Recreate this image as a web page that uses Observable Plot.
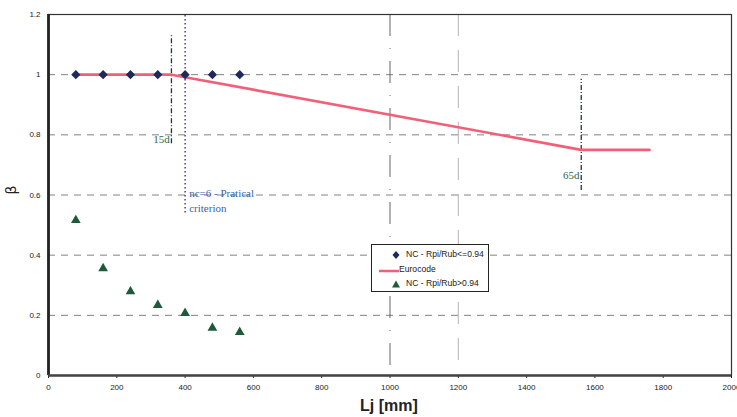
<!DOCTYPE html>
<html><head><meta charset="utf-8">
<script src="https://cdn.jsdelivr.net/npm/d3@7"></script>
<script src="https://cdn.jsdelivr.net/npm/@observablehq/plot@0.6"></script>
<style>
body{margin:0;background:#fff;font-family:"Liberation Sans",Arial,sans-serif;}
#wrap{position:relative;width:737px;height:417px;}
#legend{position:absolute;left:371px;top:244px;width:118px;height:48px;border:1px solid #222;background:#fff;font-size:8.6px;color:#222;box-sizing:border-box;}
#legend div{position:absolute;left:0;white-space:nowrap;}
</style></head>
<body><div id="wrap"></div>
<script>
const lengths = [80, 160, 240, 320, 400, 480, 560];
const betaLow = [1, 1, 1, 1, 1, 1, 1];
const betaHigh = [0.516, 0.356, 0.279, 0.234, 0.207, 0.158, 0.144];
const eurocodeL = [80, 360, 1560, 1760];
const eurocodeB = [1, 1, 0.75, 0.75];
const xTicks = [0, 200, 400, 600, 800, 1000, 1200, 1400, 1600, 1800, 2000];
const yTicks = [0, 0.2, 0.4, 0.6, 0.8, 1, 1.2];
const yGrid = [0.2, 0.4, 0.6, 0.8, 1];
const legendLabels = ["NC - Rpi/Rub<=0.94", "Eurocode", "NC - Rpi/Rub>0.94"];

const low = lengths.map((x, i) => ({x, y: betaLow[i]}));
const high = lengths.map((x, i) => ({x, y: betaHigh[i]}));
const euro = eurocodeL.map((x, i) => ({x, y: eurocodeB[i]}));

const chart = Plot.plot({
  width: 737, height: 417,
  marginLeft: 48, marginRight: 6, marginTop: 14, marginBottom: 42,
  style: {fontFamily: "Liberation Sans, Arial, sans-serif", fontSize: "8px", color: "#222", background: "#fff"},
  x: {domain: [0, 2000], ticks: xTicks, tickSize: 3, tickPadding: 6, tickFormat: d => String(d), label: null},
  y: {domain: [0, 1.2], ticks: yTicks, tickSize: 0, tickPadding: 8, tickFormat: d => String(d), label: null},
  marks: [
    Plot.ruleY(yGrid, {stroke: "#444", strokeDasharray: "7,6", strokeWidth: 0.9, strokeOpacity: 0.75}),
    Plot.ruleX([1000], {stroke: "#555", strokeDasharray: "22,12,1,12", strokeWidth: 0.9}),
    Plot.ruleX([1200], {stroke: "#aaa", strokeDasharray: "22,14", strokeWidth: 0.9}),
    Plot.ruleX([360], {y1: 0.77, y2: 1.135, stroke: "#1c3a2c", strokeDasharray: "5,2,1,2", strokeWidth: 1.3}),
    Plot.ruleX([400], {y1: 0.54, y2: 1.2, stroke: "#2e3b8f", strokeDasharray: "1.5,2.5", strokeWidth: 1.4}),
    Plot.ruleX([1560], {y1: 0.615, y2: 0.985, stroke: "#1c3a2c", strokeDasharray: "5,2,1,2", strokeWidth: 1.3}),
    Plot.text(["15d"], {x: 355, y: 0.785, textAnchor: "end", fill: "#2d6a4a", fontFamily: "Liberation Serif, serif", fontSize: 11}),
    Plot.text(["65d"], {x: 1555, y: 0.665, textAnchor: "end", fill: "#2d6a4a", fontFamily: "Liberation Serif, serif", fontSize: 11}),
    Plot.text(["nc=6 - Pratical"], {x: 412, y: 0.605, textAnchor: "start", fill: "#3a63b0", fontFamily: "Liberation Serif, serif", fontSize: 11}),
    Plot.text(["criterion"], {x: 412, y: 0.555, textAnchor: "start", fill: "#3a63b0", fontFamily: "Liberation Serif, serif", fontSize: 11}),
    Plot.line(euro, {x: "x", y: "y", stroke: "#f06078", strokeWidth: 2.6}),
    Plot.dot(low, {x: "x", y: "y", symbol: "diamond2", r: 3.2, fill: "#1f2a5c", stroke: "#1f2a5c"}),
    Plot.dot(high, {x: "x", y: "y", symbol: "triangle2", r: 3.4, fill: "#1f5a3c", stroke: "#1f5a3c"}),
    Plot.frame({stroke: "#333", strokeWidth: 1.2}),
    Plot.ruleX([0], {stroke: "#222", strokeWidth: 2.8}),
    Plot.ruleY([0], {stroke: "#444", strokeWidth: 2.5})
  ]
});
const wrap = document.getElementById("wrap");
wrap.appendChild(chart);

// axis titles
const yl = document.createElement("div");
yl.textContent = "β";
yl.style.cssText = "position:absolute;left:7px;top:182px;font-size:14px;transform:rotate(-90deg);font-family:'DejaVu Sans',sans-serif;color:#222;";
wrap.appendChild(yl);
const xl = document.createElement("div");
xl.textContent = "Lj [mm]";
xl.style.cssText = "position:absolute;left:360px;top:397px;font-size:16px;font-weight:bold;color:#222;font-family:'Liberation Sans',Arial,sans-serif;";
wrap.appendChild(xl);

// legend
const lg = document.createElement("div");
lg.id = "legend";
const sym = [
  '<svg width="10" height="10" style="position:absolute;left:19px;top:1px"><path d="M5 1 L8.5 5 L5 9 L1.5 5 Z" fill="#1f2a5c"/></svg>',
  '<svg width="20" height="6" style="position:absolute;left:7px;top:4px"><line x1="0" y1="3" x2="20" y2="3" stroke="#f06078" stroke-width="2.5"/></svg>',
  '<svg width="10" height="10" style="position:absolute;left:19px;top:1px"><path d="M5 1.5 L9 8.5 L1 8.5 Z" fill="#1f5a3c"/></svg>'
];
const tx = [34, 27, 34];
legendLabels.forEach((t, i) => {
  const row = document.createElement("div");
  row.style.top = (4 + i * 14.5) + "px";
  row.style.width = "116px";
  row.style.height = "12px";
  row.innerHTML = sym[i] + '<span style="position:absolute;left:' + tx[i] + 'px;top:0px">' + t + '</span>';
  lg.appendChild(row);
});
wrap.appendChild(lg);
</script></body></html>
